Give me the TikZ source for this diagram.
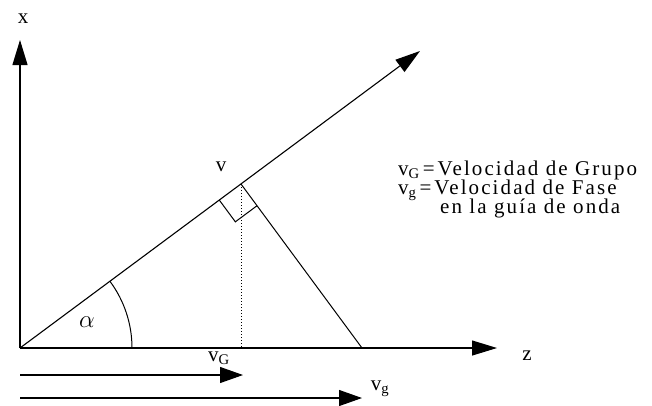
\documentclass[tikz,border=0pt]{standalone}
\usepackage{fontspec}
\setmainfont{Liberation Serif}
\newfontfamily\lblfont[LetterSpace=10]{Liberation Serif}
\usetikzlibrary{arrows.meta,calc}

\begin{document}
\begin{tikzpicture}[x=1pt, y=-1pt,
    lbl/.style={font=\lblfont\fontsize{21}{24}\selectfont, inner sep=0pt},
    axis/.style={line width=1.1pt, -{Triangle[length=25pt,width=15pt]}},
    vec/.style={line width=1.1pt, -{Triangle[length=23pt,width=16pt]}},
    line/.style={line width=1pt}
]
    \useasboundingbox (0,0) rectangle (652,405);

    \coordinate (O)    at (20,348);
    \coordinate (xtip) at (20,40);
    \coordinate (ztip) at (497,348);
    \coordinate (vtip) at (420,51);
    \coordinate (foot) at (241,184);
    \coordinate (zcut) at (362,348);
    \coordinate (zdot) at (241,348);

    \draw[axis] (O) -- (xtip);
    \draw[axis] (O) -- (ztip);
    \draw[axis] (O) -- (vtip);
    \draw[line] (foot) -- (zcut);
    \draw[line, dotted] (foot) -- (zdot);

    % right angle mark
    \coordinate (ra1) at ($(foot)!27pt!(O)$);
    \coordinate (ra2) at ($(foot)!27pt!(zcut)$);
    \draw[line] (ra1) -- ($(ra1)+(ra2)-(foot)$) -- (ra2);

    \draw[line] ($(O)+(112,0)$) arc[start angle=0, end angle=-36.6, radius=112];

    \coordinate (vGs) at (20,375);
    \coordinate (vGe) at (243,375);
    \coordinate (vgs) at (20,398);
    \coordinate (vge) at (362,398);
    \draw[vec] (vGs) -- (vGe);
    \draw[vec] (vgs) -- (vge);

    \node[lbl] (xlbl)  at (23,19)   {x};
    \node[lbl] (zlbl)  at (527,356) {z};
    \node[lbl] (vlbl)  at (221,167) {v};
    \node[font=\fontsize{34}{36}\selectfont] (alpha) at (87,322) {$\alpha$};
    \node[lbl] (vGlbl) at (219,358) {v\textsubscript{G}};
    \node[lbl] (vglbl) at (380,389) {v\textsubscript{g}};

    \node[lbl, anchor=base west] (leg1) at (398,175) {v\textsubscript{G}\hspace{3pt}=\hspace{3pt}Velocidad de Grupo};
    \node[lbl, anchor=base west] (leg2) at (398,194) {v\textsubscript{g}\hspace{3pt}=\hspace{3pt}Velocidad de Fase};
    \node[lbl, anchor=base west] (leg3) at (440,213) {en la guía de onda};
\end{tikzpicture}
\end{document}
